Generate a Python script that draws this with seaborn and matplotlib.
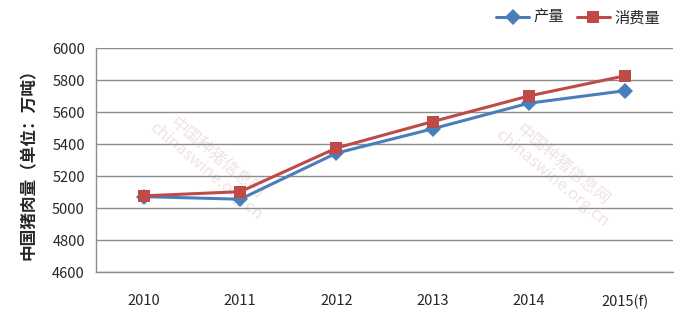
import matplotlib
matplotlib.use("Agg")
import matplotlib.pyplot as plt
import seaborn as sns
import pandas as pd

years = ["2010", "2011", "2012", "2013", "2014", "2015(f)"]
production = [5071, 5055, 5343, 5495, 5655, 5733]
consumption = [5076, 5102, 5375, 5540, 5700, 5826]
series_names = ["产量", "消费量"]
yticks = [4600, 4800, 5000, 5200, 5400, 5600, 5800, 6000]

sns.set_theme(style="white")
plt.rcParams['font.family'] = ['Noto Sans CJK SC', 'DejaVu Sans']

df = pd.DataFrame({
    "year": years * 2,
    "value": production + consumption,
    "series": [series_names[0]] * len(years) + [series_names[1]] * len(years),
})

fig = plt.figure(figsize=(6.8, 3.13), dpi=100)
ax = fig.add_axes([96/680, 41/313, 577/680, 224/313])

# watermarks
for (wx, wy) in [(0.20, 0.48), (0.80, 0.45)]:
    ax.text(wx, wy, "中国种猪信息网\nchinaswine.org.cn", transform=ax.transAxes,
            rotation=-40, fontsize=12, color="#f0e2e2", ha="center", va="center",
            zorder=0, linespacing=1.0)

palette = {"产量": "#4A7EBB", "消费量": "#BE4B48"}
sns.lineplot(data=df, x="year", y="value", hue="series", style="series",
             markers={"产量": "D", "消费量": "s"}, dashes=False,
             palette=palette, linewidth=2.2, markersize=8,
             markeredgewidth=0, ax=ax, sort=False, zorder=3)

ax.set_ylim(4600, 6000)
ax.set_xlim(-0.5, len(years) - 0.5)
ax.set_yticks(yticks)
ax.set_yticklabels([str(t) for t in yticks], fontsize=10.5)
ax.set_xticks(range(len(years)))
ax.set_xticklabels(years, fontsize=10.5)
ax.tick_params(axis="both", length=0, pad=8)
ax.tick_params(axis="x", pad=16)
ax.yaxis.grid(True, color="#8c8c8c", linewidth=1)
ax.set_axisbelow(True)
for s in ["top", "right"]:
    ax.spines[s].set_visible(False)
for s in ["left", "bottom"]:
    ax.spines[s].set_color("#8c8c8c")
    ax.spines[s].set_linewidth(1)
ax.set_xlabel("")
ax.set_ylabel("中国猪肉量（单位：万吨）", fontsize=12, fontweight="bold", labelpad=10)

handles, labels = ax.get_legend_handles_labels()
ax.get_legend().remove()
fig.legend(handles, labels, loc="upper right", bbox_to_anchor=(0.985, 1.0), ncol=2,
           frameon=False, fontsize=11, handlelength=2.2, columnspacing=0.8,
           handletextpad=0.3, borderaxespad=0.2)

fig.savefig("out.png", dpi=100)
